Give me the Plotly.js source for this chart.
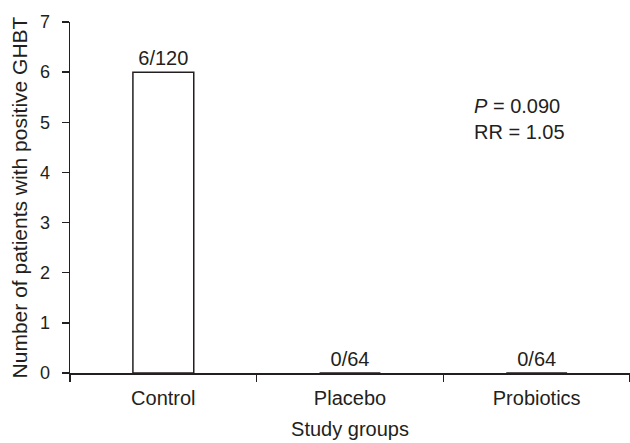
<!DOCTYPE html>
<html>
<head>
<meta charset="utf-8">
<script src="https://cdn.plot.ly/plotly-3.0.1.min.js"></script>
<style>html,body{margin:0;padding:0;background:#fff;}#chart{width:630px;height:443px;}</style>
</head>
<body>
<div id="chart"></div>
<script>
const categories = ["Control", "Placebo", "Probiotics"];
const positiveCounts = [6, 0, 0];
const barLabels = ["6/120", "0/64", "0/64"];
const statsText = "<i>P</i> = 0.090<br>RR = 1.05";
const yTicks = [0, 1, 2, 3, 4, 5, 6, 7];

const ink = "#231f20";
const font = "Liberation Sans, Arial, Helvetica, sans-serif";

const trace = {
  type: "bar",
  x: categories,
  y: positiveCounts,
  text: barLabels,
  textposition: "outside",
  cliponaxis: false,
  textfont: {family: font, size: 20, color: ink},
  marker: {color: "#ffffff", line: {color: ink, width: 1.5}},
  hoverinfo: "none"
};

const layout = {
  width: 630,
  height: 443,
  margin: {l: 70, r: 0, t: 22, b: 70},
  paper_bgcolor: "#ffffff",
  plot_bgcolor: "#ffffff",
  showlegend: false,
  bargap: 0.674,
  font: {family: font, color: ink},
  xaxis: {
    type: "category",
    range: [-0.5, 2.5],
    showline: true, linecolor: ink, linewidth: 1.5,
    ticks: "outside", tickson: "boundaries", ticklen: 7, tickwidth: 1.5, tickcolor: ink,
    ticklabelstandoff: 6,
    showgrid: false, zeroline: false,
    tickfont: {family: font, size: 20, color: ink},
    title: {text: "Study groups", font: {family: font, size: 20, color: ink}, standoff: 14}
  },
  yaxis: {
    range: [0, 7],
    tickvals: yTicks,
    showline: true, linecolor: ink, linewidth: 1.5,
    ticks: "outside", ticklen: 7, tickwidth: 1.5, tickcolor: ink,
    ticklabelstandoff: 8,
    showgrid: false, zeroline: false,
    tickfont: {family: font, size: 18, color: ink},
    title: {text: "Number of patients with positive GHBT", font: {family: font, size: 21, color: ink}, standoff: 6}
  },
  annotations: [{
    xref: "paper", yref: "paper",
    x: 0.718, y: 0.725,
    xanchor: "left", yanchor: "middle",
    align: "left",
    text: statsText,
    showarrow: false,
    font: {family: font, size: 20, color: ink}
  }]
};

Plotly.newPlot("chart", [trace], layout, {displayModeBar: false, staticPlot: true});
</script>
</body>
</html>
